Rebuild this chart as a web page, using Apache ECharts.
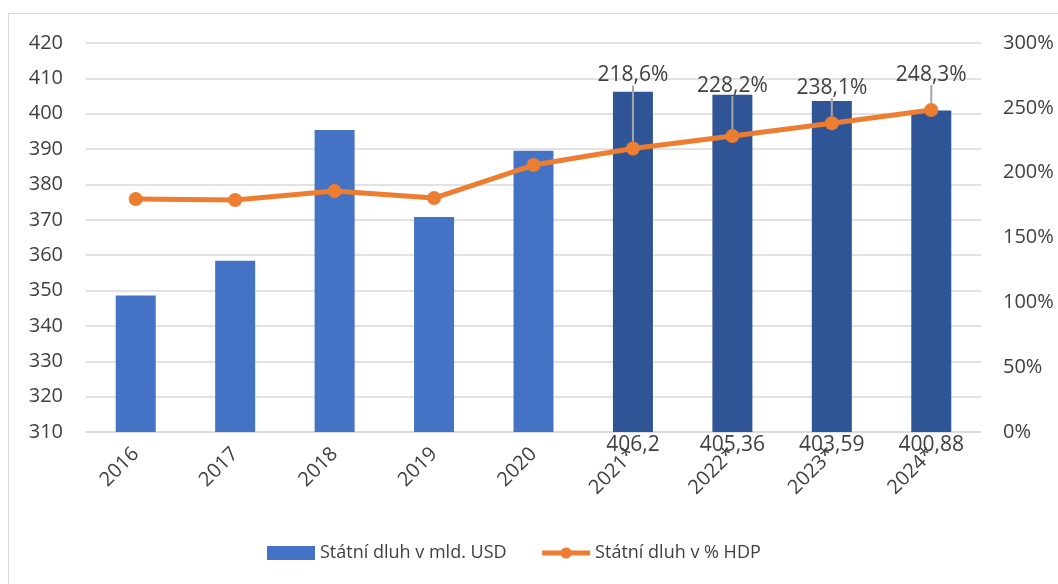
<!DOCTYPE html>
<html>
<head>
<meta charset="utf-8">
<script src="https://cdn.jsdelivr.net/npm/echarts@6/dist/echarts.min.js"></script>
<style>
html, body { margin: 0; padding: 0; background: #fff; }
#frame {
  position: absolute; left: 8px; top: 13px; width: 1060px; height: 580px;
  border: 1.5px solid #d9d9d9; box-sizing: border-box;
}
#chart { position: absolute; left: 0; top: 0; width: 1058px; height: 584px; }
</style>
</head>
<body>
<div id="frame"></div>
<div id="chart"></div>
<script>
// roky, * = odhad
var years = ['2016', '2017', '2018', '2019', '2020', '2021*', '2022*', '2023*', '2024*']
var debtUsd = [348.6, 358.4, 395.4, 370.8, 389.5, 406.2, 405.36, 403.59, 400.88]
var debtGdp = [179.6, 178.9, 185.8, 180.4, 205.9, 218.6, 228.2, 238.1, 248.3]
var forecastFrom = 5

var txt = '#404040'
var font = 'Open Sans'

var chart = echarts.init(document.getElementById('chart'))

var barData = debtUsd.map(function (v, i) {
  if (i < forecastFrom) return { value: v }
  return {
    value: v,
    itemStyle: { color: '#2F5597' },
    label: { show: true }
  }
})
var lineData = debtGdp.map(function (v, i) {
  if (i < forecastFrom) return { value: v }
  return { value: v, label: { show: true } }
})
var lift = [0, 0, 0, 0, 0, -51, -28, -13, -13]

var option = {
  animation: false,
  textStyle: { fontFamily: font },
  grid: { left: 86, right: 77, top: 43, bottom: 152 },
  legend: {
    bottom: 17,
    left: 262,
    itemGap: 33,
    textStyle: { color: txt, fontSize: 18, fontFamily: font },
    data: [
      { name: 'Státní dluh v mld. USD', icon: 'rect', itemWidth: 43, itemHeight: 11 },
      { name: 'Státní dluh v % HDP', lineStyle: { width: 5 } }
    ],
    itemWidth: 48,
    itemHeight: 14
  },
  xAxis: {
    type: 'category',
    data: years,
    axisTick: { show: false },
    axisLine: { lineStyle: { color: '#d9d9d9', width: 1.5 } },
    axisLabel: { color: txt, fontSize: 20, rotate: 45, margin: 19, interval: 0 }
  },
  yAxis: [
    {
      type: 'value',
      min: 310,
      max: 420,
      interval: 10,
      axisLine: { show: false },
      axisTick: { show: false },
      axisLabel: { color: txt, fontSize: 20, margin: 23 },
      splitLine: { lineStyle: { color: '#d9d9d9', width: 1.5 } }
    },
    {
      type: 'value',
      min: 0,
      max: 300,
      interval: 50,
      axisLine: { show: false },
      axisTick: { show: false },
      splitLine: { show: false },
      axisLabel: { color: txt, fontSize: 20, margin: 22, formatter: '{value}%' }
    }
  ],
  series: [
    {
      name: 'Státní dluh v mld. USD',
      type: 'bar',
      data: barData,
      barWidth: 40,
      itemStyle: { color: '#4472C4' },
      label: {
        show: false,
        position: 'bottom',
        distance: 3,
        color: txt,
        fontSize: 21,
        formatter: function (p) { return String(p.value).replace('.', ',') }
      }
    },
    {
      name: 'Státní dluh v % HDP',
      type: 'line',
      yAxisIndex: 1,
      data: lineData,
      symbol: 'circle',
      symbolSize: 14,
      z: 5,
      lineStyle: { color: '#ED7D31', width: 5 },
      itemStyle: { color: '#ED7D31' },
      label: {
        show: false,
        position: 'top',
        color: txt,
        fontSize: 21,
        formatter: function (p) { return p.value.toFixed(1).replace('.', ',') + '%' }
      },
      labelLine: { show: true, lineStyle: { color: '#a6a6a6', width: 2 } },
      labelLayout: function (p) {
        return { dy: lift[p.dataIndex] }
      }
    }
  ]
}

chart.setOption(option)
</script>
</body>
</html>
